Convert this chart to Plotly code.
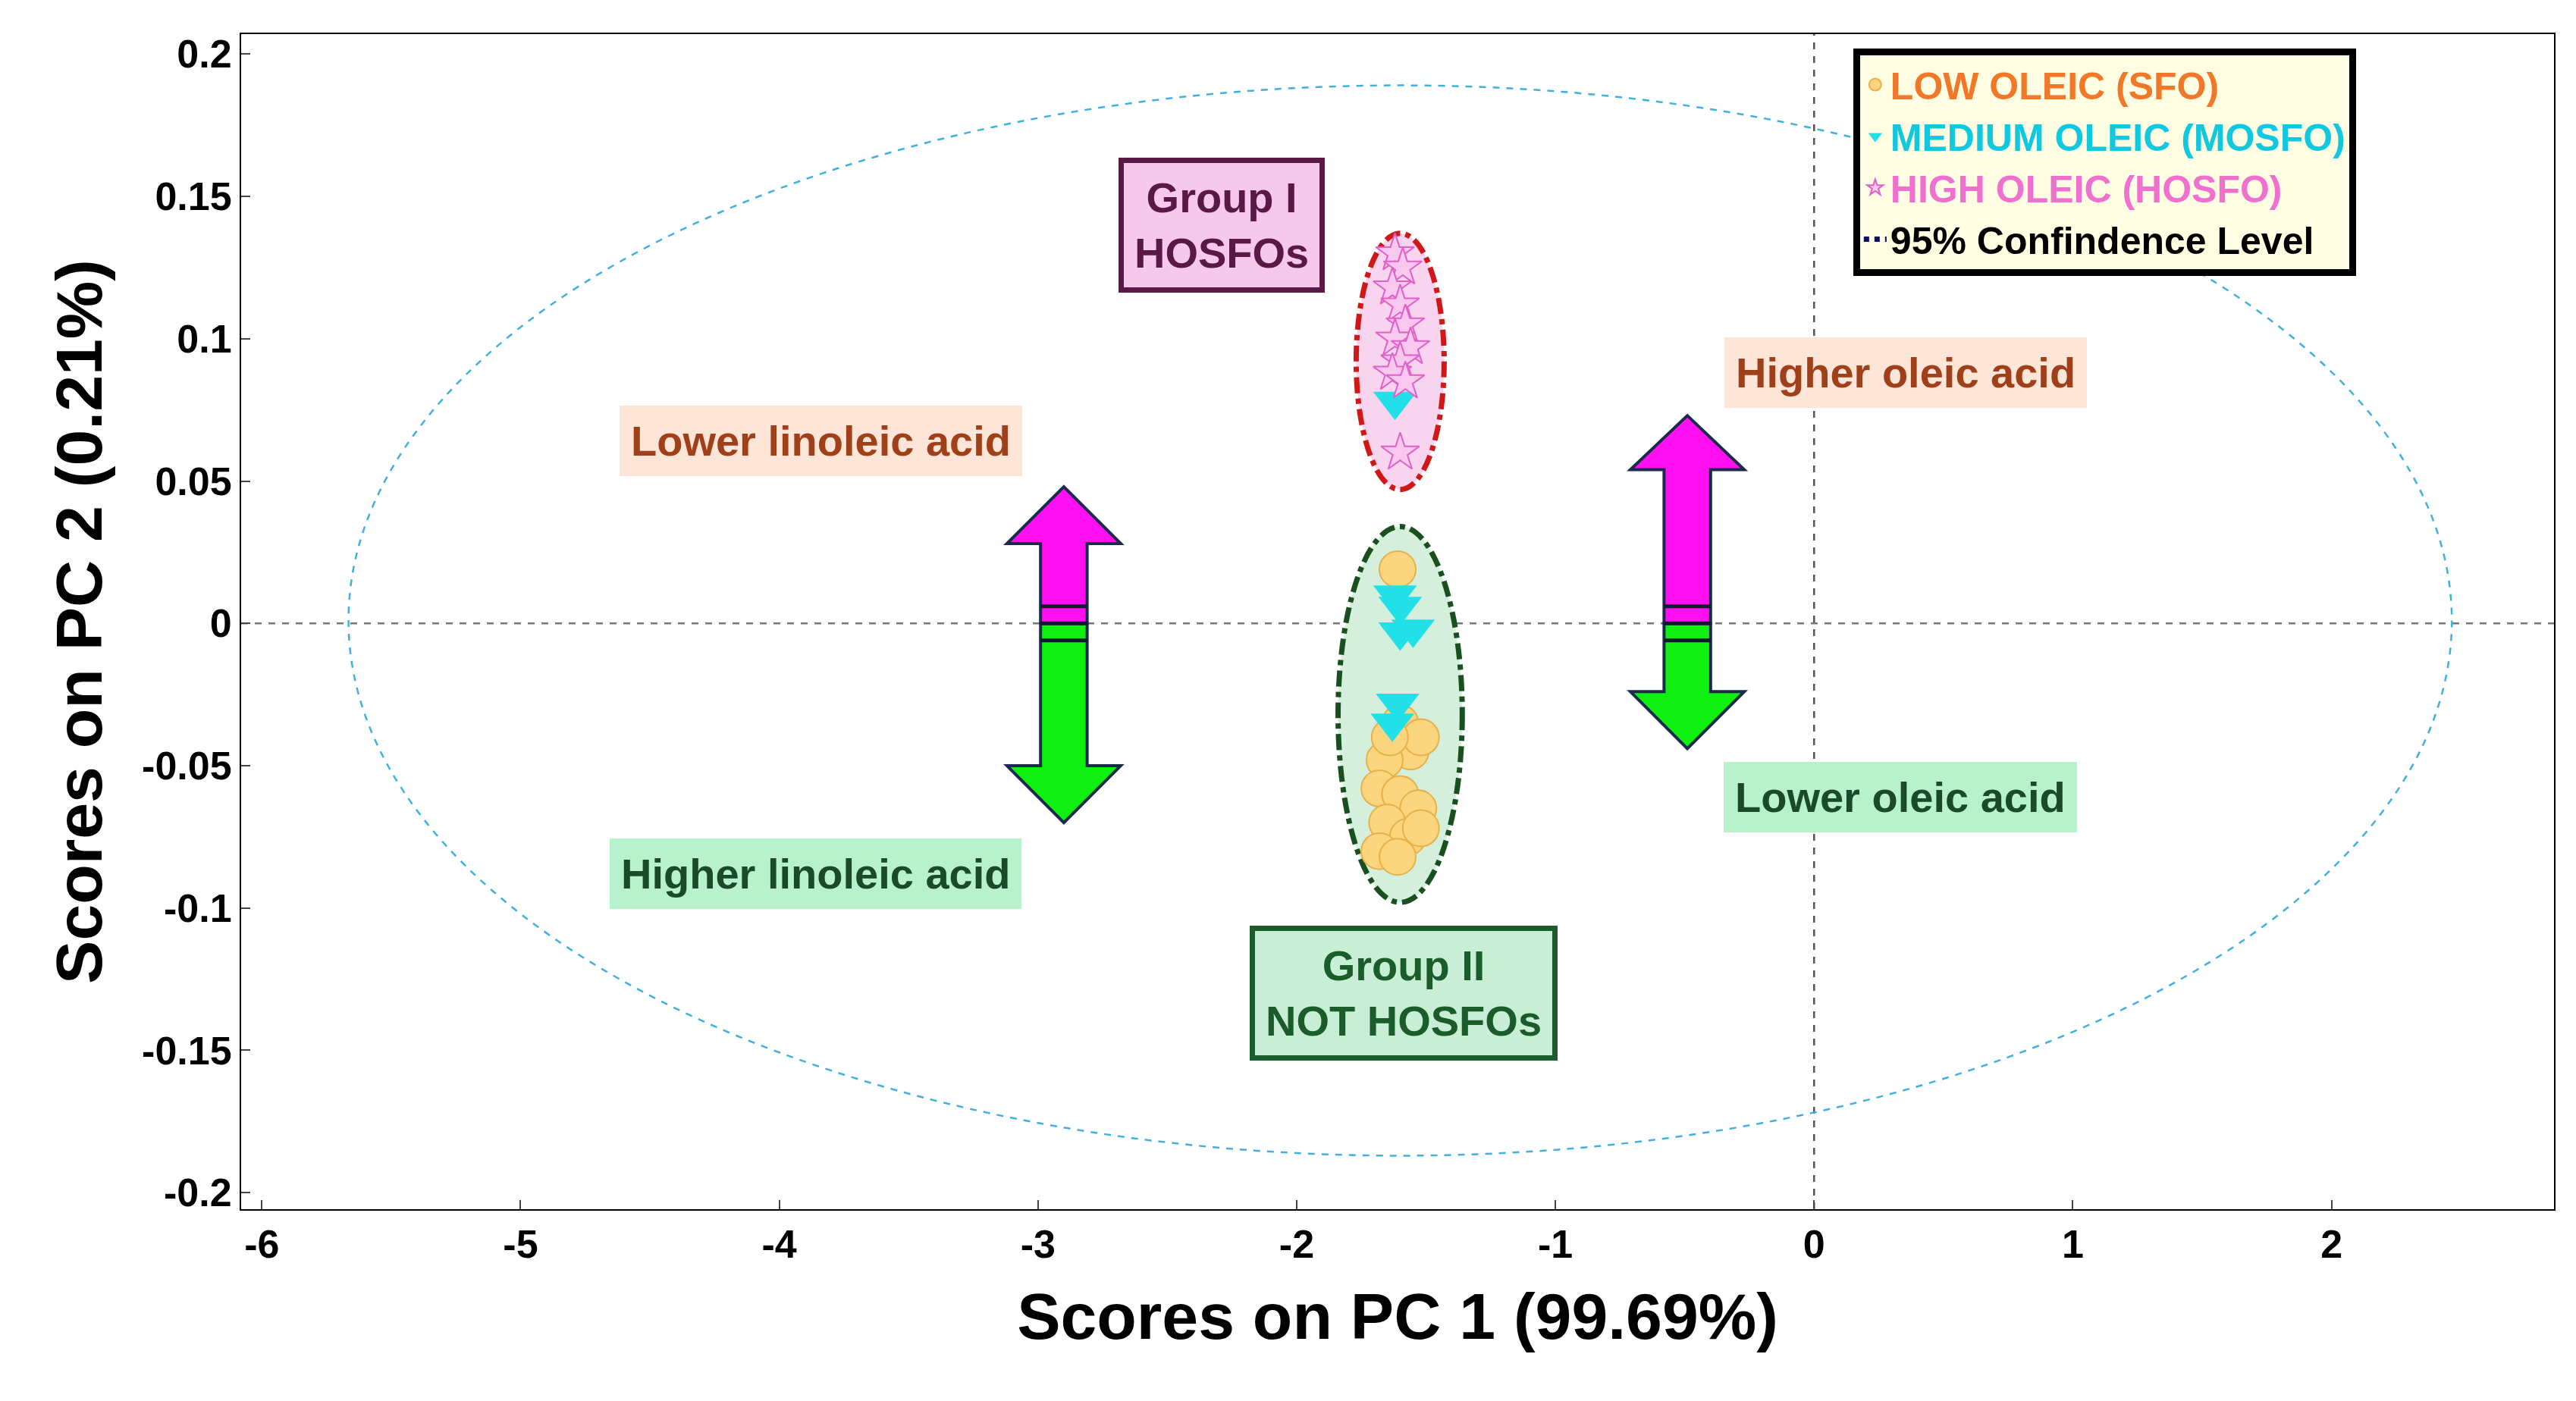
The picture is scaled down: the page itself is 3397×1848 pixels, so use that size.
import plotly.graph_objects as go

# scores
low_x = [-1.61, -1.60, -1.56, -1.66, -1.52, -1.68, -1.60, -1.53, -1.65, -1.57, -1.68, -1.61, -1.52, -1.64]
low_y = [0.019, -0.035, -0.045, -0.048, -0.040, -0.058, -0.060, -0.065, -0.070, -0.075, -0.080, -0.082, -0.072, -0.040]
med_x = [-1.62, -1.62, -1.60, -1.60, -1.55, -1.61, -1.63]
med_y = [0.078, 0.010, 0.006, -0.003, -0.002, -0.028, -0.035]
high_x = [-1.62, -1.59, -1.63, -1.60, -1.58, -1.62, -1.56, -1.60, -1.63, -1.58, -1.60]
high_y = [0.130, 0.125, 0.118, 0.112, 0.105, 0.100, 0.097, 0.092, 0.088, 0.085, 0.060]

xticks = [-6, -5, -4, -3, -2, -1, 0, 1, 2]
yticks = [-0.2, -0.15, -0.1, -0.05, 0, 0.05, 0.1, 0.15, 0.2]
yticktext = ["-0.2", "-0.15", "-0.1", "-0.05", "0", "0.05", "0.1", "0.15", "0.2"]

# ellipses: (cx, cy, rx, ry)
conf_ellipse = (-1.6, 0.001, 4.065, 0.188)
group1_ellipse = (-1.6, 0.092, 0.17, 0.045)
group2_ellipse = (-1.6, -0.032, 0.24, 0.066)

# arrows: (x, top, bottom, head_top_base, head_bottom_base)
arrows = [(-2.9, 0.048, -0.070, 0.028, -0.050), (-0.49, 0.073, -0.044, 0.054, -0.024)]

FONT = "Liberation Sans, Arial, sans-serif"

fig = go.Figure()
fig.add_trace(go.Scatter(x=low_x, y=low_y, mode="markers",
    name="<span style='color:#f07828'><b>LOW OLEIC (SFO)</b></span>",
    marker=dict(symbol="circle", size=48, color="#fcd67e", line=dict(color="#e8b048", width=2))))
fig.add_trace(go.Scatter(x=med_x, y=med_y, mode="markers",
    name="<span style='color:#10c8e0'><b>MEDIUM OLEIC (MOSFO)</b></span>",
    marker=dict(symbol="triangle-down", size=50, color="#22e0e8", line=dict(width=0))))
fig.add_trace(go.Scatter(x=high_x, y=high_y, mode="markers",
    name="<span style='color:#f070d0'><b>HIGH OLEIC (HOSFO)</b></span>",
    marker=dict(symbol="star", size=38, color="#f8c8ee", line=dict(color="#e060c8", width=2))))
fig.add_trace(go.Scatter(x=[None], y=[None], mode="lines",
    name="<b>95% Confindence Level</b>",
    line=dict(color="#10105a", dash="dot", width=7)))

shapes = []
def ellipse(e, line, fill, dash, width):
    cx, cy, rx, ry = e
    return dict(type="circle", xref="x", yref="y", x0=cx - rx, x1=cx + rx, y0=cy - ry, y1=cy + ry,
                line=dict(color=line, dash=dash, width=width), fillcolor=fill, layer="below")

shapes.append(ellipse(conf_ellipse, "#40b0e0", "rgba(0,0,0,0)", "dash", 2.5))
shapes.append(ellipse(group1_ellipse, "#d01818", "#f8d4ee", "dashdot", 7))
shapes.append(ellipse(group2_ellipse, "#1a5020", "#d4f0dc", "dashdot", 7))
shapes.append(dict(type="line", xref="x", yref="paper", x0=0, x1=0, y0=0, y1=1,
                   line=dict(color="#555", dash="dash", width=2.5), layer="below"))
shapes.append(dict(type="line", xref="paper", yref="y", x0=0, x1=1, y0=0, y1=0,
                   line=dict(color="#777", dash="dash", width=2.5), layer="below"))

shaft, head = 0.09, 0.22
for ax, top, bot, hb_top, hb_bot in arrows:
    up = (f"M {ax-shaft},0 L {ax-shaft},{hb_top} L {ax-head},{hb_top} L {ax},{top} "
          f"L {ax+head},{hb_top} L {ax+shaft},{hb_top} L {ax+shaft},0 Z")
    dn = (f"M {ax-shaft},0 L {ax-shaft},{hb_bot} L {ax-head},{hb_bot} L {ax},{bot} "
          f"L {ax+head},{hb_bot} L {ax+shaft},{hb_bot} L {ax+shaft},0 Z")
    shapes.append(dict(type="path", path=up, fillcolor="#ff10f0", line=dict(color="#1a2a4a", width=4)))
    shapes.append(dict(type="path", path=dn, fillcolor="#10f010", line=dict(color="#1a2a4a", width=4)))
    for dy in (0.006, 0.0, -0.006):
        shapes.append(dict(type="line", x0=ax - shaft, x1=ax + shaft, y0=dy, y1=dy,
                           line=dict(color="#101830", width=5)))

boxes = [
    (-2.29, 0.140, "Group I<br>HOSFOs", "#5a1846", "#f6c8ec", "#5a1846", True),
    (-1.587, -0.130, "Group II<br>NOT HOSFOs", "#1a5c2a", "#c8eed6", "#1a5c2a", True),
    (-3.84, 0.064, "Lower linoleic acid", "#a0401a", "#fde6d8", "#fde6d8", False),
    (-3.86, -0.088, "Higher linoleic acid", "#1a4a2a", "#b8f2cc", "#b8f2cc", False),
    (0.353, 0.088, "Higher oleic acid", "#a0401a", "#fde6d8", "#fde6d8", False),
    (0.334, -0.061, "Lower oleic acid", "#1a4a2a", "#b8f2cc", "#b8f2cc", False),
]
annotations = []
for x, y, txt, col, bg, border, dashed in boxes:
    annotations.append(dict(x=x, y=y, text=f"<b>{txt}</b>", showarrow=False,
        font=dict(family=FONT, size=56, color=col), bgcolor=bg,
        bordercolor=border, borderwidth=7 if dashed else 1, borderpad=14))

fig.update_layout(
    width=3397, height=1848, paper_bgcolor="white", plot_bgcolor="white",
    margin=dict(l=310, r=37, t=37, b=261),
    font=dict(family=FONT, color="black"),
    shapes=shapes, annotations=annotations,
    legend=dict(x=0.697, y=0.988, xanchor="left", yanchor="top", bgcolor="#fffde2",
                bordercolor="black", borderwidth=9, font=dict(family=FONT, size=50),
                itemsizing="trace", tracegroupgap=0),
    xaxis=dict(range=[-6.08, 2.86], tickvals=xticks, ticktext=["<b>%d</b>" % t for t in xticks],
               ticks="inside", ticklen=12, tickwidth=2,
               showgrid=False, zeroline=False, showline=True, linecolor="black", linewidth=2, mirror=True,
               tickfont=dict(size=52), title=dict(text="<b>Scores on PC 1 (99.69%)</b>", font=dict(size=86), standoff=36)),
    yaxis=dict(range=[-0.2058, 0.207], tickvals=yticks, ticktext=["<b>%s</b>" % t for t in yticktext],
               ticks="inside", ticklen=12, tickwidth=2,
               showgrid=False, zeroline=False, showline=True, linecolor="black", linewidth=2, mirror=True,
               tickfont=dict(size=52), title=dict(text="<b>Scores on PC 2 (0.21%)</b>", font=dict(size=86), standoff=24)),
)

fig.write_html("out.html")
